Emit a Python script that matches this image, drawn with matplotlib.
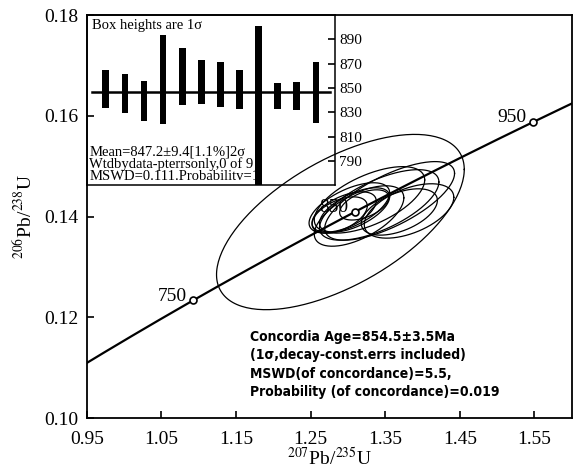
import numpy as np
import matplotlib.pyplot as plt

plt.rcParams['font.family'] = ['Liberation Serif', 'DejaVu Serif']
plt.rcParams['mathtext.fontset'] = 'stix'

# decay constants (1/yr)
L238 = 1.55125e-10
L235 = 9.8485e-10

# concordia age markers (Ma)
age_marks = [750, 850, 950]

# error ellipses: centre, half-axes, correlation
ell_x = [1.290, 1.302, 1.309, 1.295, 1.329, 1.342, 1.369, 1.382, 1.315, 1.356, 1.289, 1.322]
ell_ax = [0.166, 0.054, 0.047, 0.043, 0.074, 0.080, 0.051, 0.060, 0.060, 0.087, 0.037, 0.033]
ell_y = [0.1389, 0.1417, 0.1413, 0.1409, 0.1433, 0.1423, 0.1409, 0.1411, 0.1401, 0.1431, 0.1403, 0.1423]
ell_ay = [0.0174, 0.0050, 0.0044, 0.0040, 0.0066, 0.0070, 0.0046, 0.0054, 0.0060, 0.0078, 0.0036, 0.0030]
ell_rho = [0.60, 0.60, 0.60, 0.55, 0.60, 0.65, 0.50, 0.50, 0.60, 0.70, 0.50, 0.50]

# weighted mean inset (206/238 ages, Ma)
bar_age = [849.3, 845.5, 839.5, 856.9, 859.5, 855.3, 853.0, 849.2, 835.0, 843.5, 843.4, 846.3]
bar_sig = [15.4, 15.7, 16.7, 36.3, 23.4, 18.0, 18.7, 16.0, 66.0, 10.8, 11.4, 24.9]
mean_age = 847.2

W, H = 583, 472
fig = plt.figure(figsize=(W / 100, H / 100), dpi=100)
ax = fig.add_axes([86.7 / W, 1 - 418 / H, 485 / W, 403 / H])

# concordia
t = np.linspace(600, 1100, 500) * 1e6
ax.plot(np.exp(L235 * t) - 1, np.exp(L238 * t) - 1, color='k', lw=1.6, zorder=3)
for a in age_marks:
    mx = np.exp(L235 * a * 1e6) - 1
    my = np.exp(L238 * a * 1e6) - 1
    ax.plot(mx, my, 'o', ms=5, mfc='white', mec='k', mew=1.2, zorder=5)
    ax.annotate(str(a), (mx, my), xytext=(-5, 3), textcoords='offset points',
                ha='right', va='center', fontsize=14, zorder=4)

# ellipses
th = np.linspace(0, 2 * np.pi, 200)
for cx, sx, cy, sy, r in zip(ell_x, ell_ax, ell_y, ell_ay, ell_rho):
    ex = cx + sx * np.cos(th)
    ey = cy + sy * (r * np.cos(th) + np.sqrt(1 - r ** 2) * np.sin(th))
    ax.plot(ex, ey, color='k', lw=0.9, zorder=2)

ax.set_xlim(0.95, 1.60)
ax.set_ylim(0.10, 0.18)
ax.set_xticks(np.arange(0.95, 1.56, 0.1))
ax.set_yticks(np.arange(0.10, 0.181, 0.02))
ax.xaxis.set_major_formatter(plt.FormatStrFormatter('%.2f'))
ax.yaxis.set_major_formatter(plt.FormatStrFormatter('%.2f'))
ax.tick_params(direction='in', length=5, width=1.2, labelsize=14)
ax.tick_params(axis='x', pad=9)
ax.tick_params(axis='y', pad=6)
for s in ax.spines.values():
    s.set_linewidth(1.3)
ax.set_xlabel(r'$^{207}$Pb/$^{235}$U', fontsize=14, labelpad=0)
ax.set_ylabel(r'$^{206}$Pb/$^{238}$U', fontsize=14, labelpad=6)

# concordia age text
conc_lines = ['Concordia Age=854.5\u00b13.5Ma',
              '(1\u03c3,decay-const.errs included)',
              'MSWD(of concordance)=5.5,',
              'Probability (of concordance)=0.019']
for txt, py in zip(conc_lines, [337, 355, 374, 392]):
    fig.text(250 / W, 1 - py / H, txt, ha='left', va='center', fontsize=10,
             family=['DejaVu Sans'], stretch='condensed', weight='heavy')

# inset weighted mean plot
ins = fig.add_axes([86.7 / W, 1 - 185 / H, 248.3 / W, 170 / H])
ins.patch.set_alpha(0)
xb = np.arange(1, len(bar_age) + 1)
ins.bar(xb, 2 * np.array(bar_sig), bottom=np.array(bar_age) - np.array(bar_sig),
        width=0.35, color='k', zorder=3)
ins.axhline(mean_age, xmin=0.02, xmax=0.98, color='k', lw=1.8, zorder=2)
ins.set_xlim(0, 13)
ins.set_ylim(770.5, 910)
ins.set_xticks([])
ins.set_yticks(np.arange(790, 891, 20))
ins.yaxis.tick_right()
ins.tick_params(axis='y', direction='in', length=5, width=1.2, labelsize=11, pad=3)
for s in ins.spines.values():
    s.set_linewidth(1.1)
ins.text(0.02, 0.94, 'Box heights are 1\u03c3', transform=ins.transAxes,
         ha='left', va='center', fontsize=10.5)
inset_lines = ['Mean=847.2\u00b19.4[1.1%]2\u03c3',
               'Wtdbydata-pterrsonly,0 of 9',
               'MSWD=0.111.Probabilitv=1.']
for txt, py in zip(inset_lines, [151.7, 164.2, 176.7]):
    fig.text(89.3 / W, 1 - py / H, txt, ha='left', va='center', fontsize=10.5, zorder=1)

fig.savefig('out.png', dpi=100)
